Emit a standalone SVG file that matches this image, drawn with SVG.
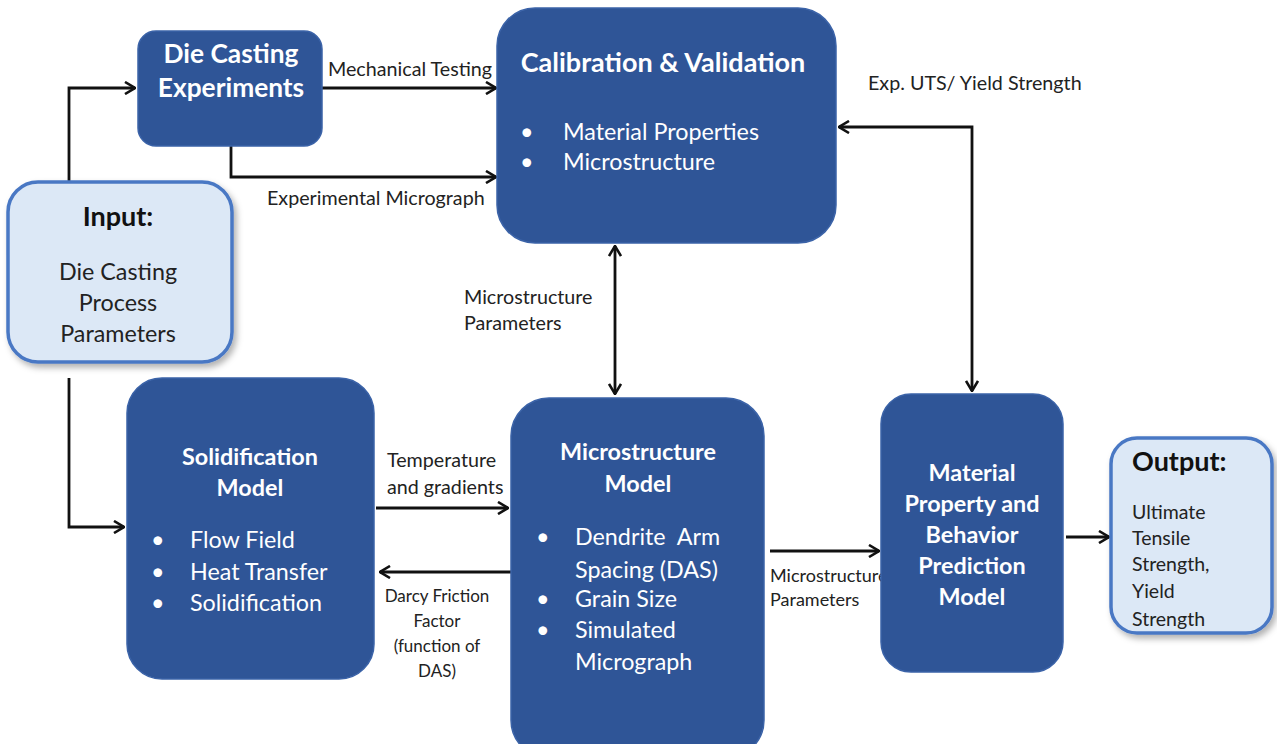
<svg xmlns="http://www.w3.org/2000/svg" width="1277" height="744" viewBox="0 0 1277 744">
<defs>
<marker id="ah" viewBox="0 0 12 14" refX="11" refY="7" markerWidth="12" markerHeight="14" markerUnits="userSpaceOnUse" orient="auto-start-reverse">
<path d="M1,1 L11,7 L1,13" fill="none" stroke="#111" stroke-width="2.6"/>
</marker>
<filter id="sh" x="-10%" y="-10%" width="125%" height="125%">
<feDropShadow dx="3" dy="4" stdDeviation="3" flood-color="#000" flood-opacity="0.3"/>
</filter>
</defs>
<style>
.dk{fill:#2F5597;stroke:#3B63A8;stroke-width:1.5}
.lt{fill:#DCE8F6;stroke:#4A78C4;stroke-width:3.5}
text{font-family:Lato,"Open Sans","Liberation Sans",sans-serif}
.tw{fill:#fff;font-weight:bold;font-size:23.4px}
.bw{fill:#fff;font-size:23.3px}
.tb{fill:#111;font-weight:bold;font-size:27px}
.bb{fill:#222;font-size:23.3px}
.lb{fill:#222;font-size:19.7px}
.ls{fill:#222;font-size:17px}
.c{text-anchor:middle}
.cn{fill:none;stroke:#111;stroke-width:2.8}
</style>
<rect width="1277" height="744" fill="#fff"/>
<g id="connectors">
<polyline class="cn" points="69,182 69,88 135,88" marker-end="url(#ah)"/>
<line class="cn" x1="322" y1="88" x2="496" y2="88" marker-end="url(#ah)"/>
<polyline class="cn" points="231,146 231,177 496,177" marker-end="url(#ah)"/>
<polyline class="cn" points="69,378 69,527 124,527" marker-end="url(#ah)"/>
<line class="cn" x1="615" y1="246" x2="615" y2="394" marker-start="url(#ah)" marker-end="url(#ah)"/>
<polyline class="cn" points="839,127 972,127 972,391" marker-start="url(#ah)" marker-end="url(#ah)"/>
<line class="cn" x1="376" y1="508" x2="508" y2="508" marker-end="url(#ah)"/>
<line class="cn" x1="511" y1="572" x2="380" y2="572" marker-end="url(#ah)"/>
<line class="cn" x1="770" y1="551" x2="879" y2="551" marker-end="url(#ah)"/>
<line class="cn" x1="1066" y1="537" x2="1109" y2="537" marker-end="url(#ah)"/>
<text class="lb" x="328" y="76">Mechanical Testing</text>
<text class="lb" x="267" y="205">Experimental Micrograph</text>
<text class="lb" x="464" y="304">Microstructure</text>
<text class="lb" x="464" y="330">Parameters</text>
<text class="lb" x="868" y="90">Exp. UTS/ Yield Strength</text>
<text class="lb" x="387" y="467">Temperature</text>
<text class="lb" x="387" y="494">and gradients</text>
<text class="ls c" x="437" y="602">Darcy Friction</text>
<text class="ls c" x="437" y="627">Factor</text>
<text class="ls c" x="437" y="652">(function of</text>
<text class="ls c" x="437" y="677">DAS)</text>
<text class="ls" x="770" y="582" style="font-size:18px">Microstructure</text>
<text class="ls" x="770" y="606" style="font-size:18px">Parameters</text>
</g>
<g id="die-casting">
<rect class="dk" x="138" y="31" width="184" height="115" rx="18"/>
<text class="tw c" x="231" y="63" style="font-size:26.3px">Die Casting</text>
<text class="tw c" x="231" y="97" style="font-size:26.3px">Experiments</text>
</g>
<g id="calibration">
<rect class="dk" x="497" y="8" width="339" height="235" rx="38"/>
<text class="tw c" x="663" y="72" style="font-size:27px">Calibration &amp; Validation</text>
<text class="bw" x="520" y="140">•</text>
<text class="bw" x="563" y="140">Material Properties</text>
<text class="bw" x="520" y="170">•</text>
<text class="bw" x="563" y="170">Microstructure</text>
</g>
<g id="input">
<rect class="lt" x="8" y="182" width="224" height="180" rx="30" filter="url(#sh)"/>
<text class="tb c" x="118" y="226">Input:</text>
<text class="bb c" x="118" y="280">Die Casting</text>
<text class="bb c" x="118" y="311">Process</text>
<text class="bb c" x="118" y="342">Parameters</text>
</g>
<g id="solidification">
<rect class="dk" x="127" y="378" width="247" height="301" rx="35"/>
<text class="tw c" x="250" y="465">Solidification</text>
<text class="tw c" x="250" y="496">Model</text>
<text class="bw" x="151" y="548">•</text>
<text class="bw" x="190" y="548">Flow Field</text>
<text class="bw" x="151" y="580">•</text>
<text class="bw" x="190" y="580">Heat Transfer</text>
<text class="bw" x="151" y="611">•</text>
<text class="bw" x="190" y="611">Solidification</text>
</g>
<g id="microstructure">
<rect class="dk" x="511" y="398" width="253" height="360" rx="38"/>
<text class="tw c" x="638" y="460">Microstructure</text>
<text class="tw c" x="638" y="492">Model</text>
<text class="bw" x="536" y="545">•</text>
<text class="bw" x="575" y="545" xml:space="preserve">Dendrite  Arm</text>
<text class="bw" x="575" y="578">Spacing (DAS)</text>
<text class="bw" x="536" y="607">•</text>
<text class="bw" x="575" y="607">Grain Size</text>
<text class="bw" x="536" y="638">•</text>
<text class="bw" x="575" y="638">Simulated</text>
<text class="bw" x="575" y="670">Micrograph</text>
</g>
<g id="material-property">
<rect class="dk" x="881" y="394" width="182" height="278" rx="30"/>
<text class="tw c" x="972" y="481">Material</text>
<text class="tw c" x="972" y="512">Property and</text>
<text class="tw c" x="972" y="543">Behavior</text>
<text class="tw c" x="972" y="574">Prediction</text>
<text class="tw c" x="972" y="605">Model</text>
</g>
<g id="output">
<rect class="lt" x="1111" y="438" width="161" height="195" rx="26" filter="url(#sh)"/>
<text class="tb" x="1132" y="471">Output:</text>
<text class="bb" x="1132" y="519" style="font-size:19.5px">Ultimate</text>
<text class="bb" x="1132" y="545" style="font-size:19.5px">Tensile</text>
<text class="bb" x="1132" y="571" style="font-size:19.5px">Strength,</text>
<text class="bb" x="1132" y="598" style="font-size:19.5px">Yield</text>
<text class="bb" x="1132" y="626" style="font-size:19.5px">Strength</text>
</g>
</svg>
